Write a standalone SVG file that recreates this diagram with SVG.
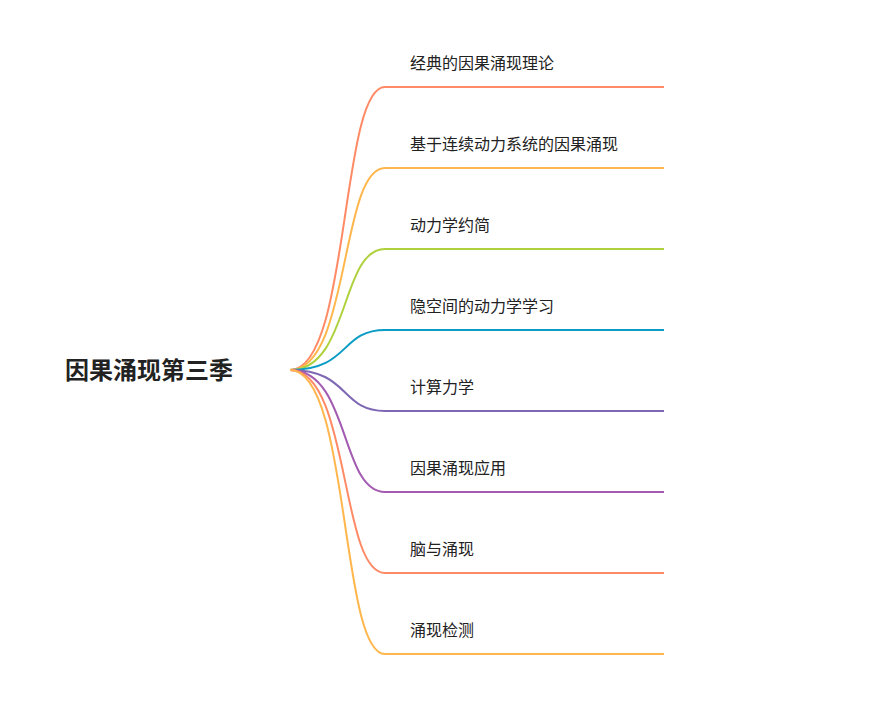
<svg xmlns="http://www.w3.org/2000/svg" width="891" height="707" viewBox="0 0 891 707">
<style>
.l{fill:none;stroke-width:2}
.t{font-family:"Noto Sans CJK SC",sans-serif;font-size:16px;fill:#222}
.r{font-family:"Noto Sans CJK SC",sans-serif;font-size:24px;font-weight:bold;fill:#222}
</style>
<rect width="891" height="707" fill="#fff"/>
<g id="connectors">
<path class="l" stroke="#FF8A65" d="M290,370 C350,370 340,87 385,87 L664,87"/>
<path class="l" stroke="#FFB74D" d="M290,370 C350,370 340,168 385,168 L664,168"/>
<path class="l" stroke="#AED13C" d="M290,370 C350,370 340,249 385,249 L664,249"/>
<path class="l" stroke="#0A9CC4" d="M290,370 C350,370 340,330 385,330 L664,330"/>
<path class="l" stroke="#7E68B3" d="M290,370 C350,370 340,411 385,411 L664,411"/>
<path class="l" stroke="#A25BB0" d="M290,370 C350,370 340,492 385,492 L664,492"/>
<path class="l" stroke="#FF8A65" d="M290,370 C350,370 340,573 385,573 L664,573"/>
<path class="l" stroke="#FFB74D" d="M290,370 C350,370 340,654 385,654 L664,654"/>
</g>
<g id="root"><text class="r" x="65" y="379">因果涌现第三季</text></g>
<g id="n1"><text class="t" x="410" y="69">经典的因果涌现理论</text></g>
<g id="n2"><text class="t" x="410" y="150">基于连续动力系统的因果涌现</text></g>
<g id="n3"><text class="t" x="410" y="231">动力学约简</text></g>
<g id="n4"><text class="t" x="410" y="312">隐空间的动力学学习</text></g>
<g id="n5"><text class="t" x="410" y="393">计算力学</text></g>
<g id="n6"><text class="t" x="410" y="474">因果涌现应用</text></g>
<g id="n7"><text class="t" x="410" y="555">脑与涌现</text></g>
<g id="n8"><text class="t" x="410" y="636">涌现检测</text></g>
</svg>
